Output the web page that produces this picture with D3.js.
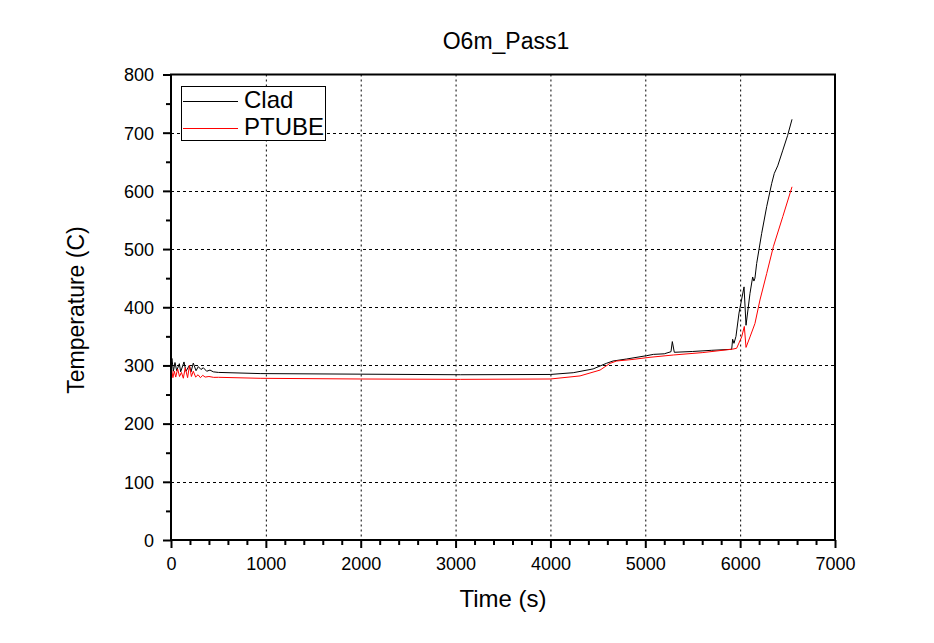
<!DOCTYPE html>
<html><head><meta charset="utf-8">
<script src="https://cdn.jsdelivr.net/npm/d3@7"></script>
<style>body{margin:0;background:#fff}svg{display:block;font-family:"Liberation Sans",Arial,sans-serif}</style>
</head><body>
<svg id="c" width="934" height="643"></svg>
<script>
const title = "O6m_Pass1";
const xLabel = "Time (s)";
const yLabel = "Temperature (C)";
const xTicks = [0,1000,2000,3000,4000,5000,6000,7000];
const yTicks = [0,100,200,300,400,500,600,700,800];
const seriesNames = ["Clad","PTUBE"];
const seriesColors = ["#000000","#ff0000"];

const cladTime = [0,10,25,42,60,88,102,137,158,193,211,235,264,288,316,341,376,411,446,499,940,2000,3050,4000,4240,4450,4590,4660,4800,5015,5085,5200,5271,5285,5306,5500,5700,5911,5921,5935,5956,5988,6041,6062,6104,6132,6145,6156,6174,6227,6280,6333,6360,6396,6450,6500,6547];
const cladTemp = [300,312,290,305,291,303,289,306,290,300,289,304,291,298,293,296,290,292,289,288,286,285,284,284.5,287.5,294,303.6,307.6,311,316.8,319,320,323.6,341,322.6,324,326,327.7,345,338,350,390,435,369,424,452,445,450,475,527,573,613,630,643,670,695,723];

const ptubeTime = [0,8,20,35,50,70,90,110,130,150,175,195,215,235,260,285,310,335,360,400,450,500,940,2000,3050,4000,4312,4523,4628,4698,4850,5050,5300,5600,5921,5963,6016,6044,6062,6104,6156,6209,6280,6350,6450,6547];
const ptubeTemp = [285,292,279,290,280,294,281,288,278,296,279,300,281,290,280,284,279,283,280,281,279.5,279.6,277.9,276.7,276.1,276.7,282,292,303.6,307.6,310,314,318,322,328,329.5,349,367,331,349,372,412.5,458,504,556,607];

const svg = d3.select("#c");
const x = d3.scaleLinear().domain([0,7000]).range([171,835]);
const y = d3.scaleLinear().domain([0,800]).range([540,74.5]);
const L = x.range()[0], R = x.range()[1], T = y.range()[1], B = y.range()[0];

// grid
svg.append("g").selectAll("line").data(xTicks.filter(d=>d>0&&d<7000)).join("line")
  .attr("x1",d=>x(d)+0.5).attr("x2",d=>x(d)+0.5).attr("y1",T).attr("y2",B)
  .attr("stroke","#000").attr("stroke-width",1).attr("stroke-dasharray","2,3");
svg.append("g").selectAll("line").data(yTicks.filter(d=>d>0&&d<800)).join("line")
  .attr("y1",d=>Math.round(y(d))+0.5).attr("y2",d=>Math.round(y(d))+0.5).attr("x1",L).attr("x2",R)
  .attr("stroke","#000").attr("stroke-width",1).attr("stroke-dasharray","3,3");

// lines
const line = d3.line().x(d=>x(d[0])).y(d=>y(d[1]));
const cladData = cladTime.map((t,i)=>[t,cladTemp[i]]);
const ptubeData = ptubeTime.map((t,i)=>[t,ptubeTemp[i]]);
svg.append("path").datum(cladData).attr("d",line).attr("fill","none").attr("stroke",seriesColors[0]).attr("stroke-width",1);
svg.append("path").datum(ptubeData).attr("d",line).attr("fill","none").attr("stroke",seriesColors[1]).attr("stroke-width",1);

// axes
const xAxis = d3.axisBottom(x).tickValues(xTicks).tickSize(8).tickFormat(d3.format("d"));
const xMinor = d3.axisBottom(x).tickValues(d3.range(200,7000,200).filter(d=>d%1000)).tickSize(5).tickFormat("");
const gx = svg.append("g").attr("transform",`translate(0,${B})`).call(xAxis);
const gxm = svg.append("g").attr("transform",`translate(0,${B})`).call(xMinor);
const yAxis = d3.axisLeft(y).tickValues(yTicks).tickSize(8).tickFormat(d3.format("d"));
const yMinor = d3.axisLeft(y).tickValues(d3.range(50,800,100)).tickSize(5).tickFormat("");
const gy = svg.append("g").attr("transform",`translate(${L},0)`).call(yAxis);
const gym = svg.append("g").attr("transform",`translate(${L},0)`).call(yMinor);
[gx,gxm,gy,gym].forEach(g=>{
  g.select(".domain").remove();
  g.selectAll(".tick line").attr("stroke","#000").attr("stroke-width",2);
  g.selectAll("text").attr("fill","#000").style("font-size","18px").style("font-family","Liberation Sans, Arial, sans-serif");
});
gx.selectAll("text").attr("dy",null).attr("y",30);
gy.selectAll("text").attr("dy","0.35em").attr("x",-17);

// frame
svg.append("rect").attr("x",L).attr("y",T).attr("width",R-L).attr("height",B-T)
  .attr("fill","none").attr("stroke","#000").attr("stroke-width",2);

// titles
svg.append("text").attr("x",506).attr("y",49).attr("text-anchor","middle").style("font-size","23px").text(title);
svg.append("text").attr("x",(L+R)/2).attr("y",607).attr("text-anchor","middle").style("font-size","24px").text(xLabel);
svg.append("text").attr("transform","translate(84,310) rotate(-90)").attr("text-anchor","middle").style("font-size","23px").text(yLabel);

// legend
const lg = svg.append("g");
lg.append("rect").attr("x",181.5).attr("y",86.5).attr("width",144).attr("height",54).attr("fill","#fff").attr("stroke","#000").attr("stroke-width",1);
const ly = [101,128];
seriesNames.forEach((n,i)=>{
  lg.append("line").attr("x1",183).attr("x2",238).attr("y1",ly[i]+0.5).attr("y2",ly[i]+0.5).attr("stroke",seriesColors[i]).attr("stroke-width",1);
  lg.append("text").attr("x",244).attr("y",ly[i]+7).style("font-size","24px").text(n);
});
</script>
</body></html>
